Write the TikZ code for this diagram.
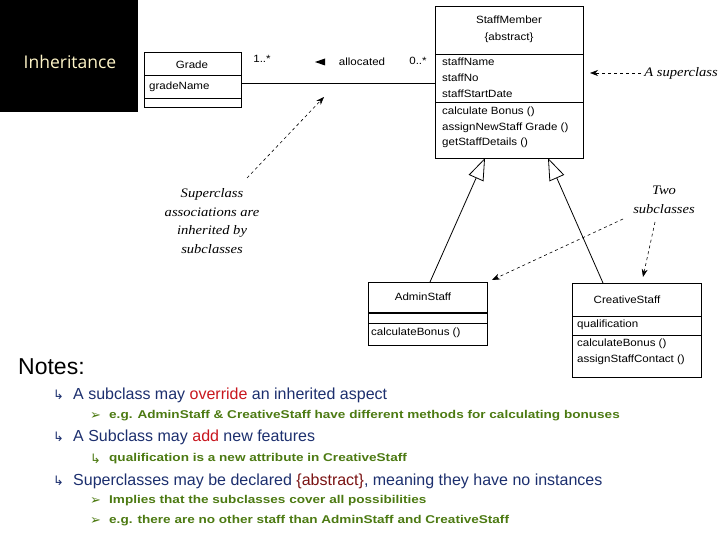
\documentclass[tikz,border=0pt]{standalone}
\usepackage{fontspec}
\setmainfont{Liberation Sans}
\newfontfamily\umlf[FakeStretch=1.1]{Liberation Sans}
\newfontfamily\narrowb[FakeStretch=1.2]{Liberation Sans}
\newfontfamily\dejavu{DejaVu Sans}
\newfontfamily\titlef{Open Sans}
\newfontfamily\serifit[FakeStretch=1.12]{Liberation Serif}
\usetikzlibrary{arrows.meta}
\definecolor{nblue}{HTML}{1C2F6E}
\definecolor{nred}{HTML}{C8161E}
\definecolor{ngreen}{HTML}{4C7A12}
\definecolor{ndred}{HTML}{7A1212}
\definecolor{ttl}{HTML}{FFF6C8}
\tikzset{
  cls/.style={draw,line width=0.8pt},
  sep/.style={line width=0.7pt},
  uml/.style={font=\umlf\fontsize{10.5}{12}\selectfont,anchor=west,inner sep=0pt},
  umlc/.style={font=\umlf\fontsize{10.5}{12}\selectfont,inner sep=0pt},
  note/.style={font=\serifit\fontsize{13}{18.5}\selectfont\itshape,align=center,inner sep=0pt},
  dasharrow/.style={dashed,line width=0.6pt,-{Stealth[length=8pt,width=6pt]}},
  gen/.style={line width=0.8pt,-{Triangle[open,length=22pt,width=16pt]}},
  lvl1/.style={anchor=west,inner sep=0pt,font=\fontsize{16}{18}\selectfont,text=nblue},
  lvl2/.style={anchor=west,inner sep=0pt,font=\narrowb\fontsize{11.3}{13}\bfseries\selectfont,text=ngreen},
  bul/.style={anchor=west,inner sep=0pt,font=\dejavu\fontsize{13}{14}\selectfont},
}
\begin{document}
\begin{tikzpicture}[x=1pt,y=-1pt]
\useasboundingbox (0,0) rectangle (720,540);
% title
\fill[black] (0,0) rectangle (138,112);
\node[text=ttl,font=\titlef\fontsize{17.5}{20}\selectfont] (title) at (70,62) {Inheritance};
% Grade
\draw[cls] (144,52) rectangle (241,107);
\draw[sep] (144,75) -- (241,75) (144,98) -- (241,98);
\node[umlc] (grade) at (192,65) {Grade};
\node[uml] (gradeName) at (149,87) {gradeName};
\coordinate (gradeR) at (241,83);
% StaffMember
\draw[cls] (435,6) rectangle (583,158);
\draw[sep] (435,54) -- (583,54) (435,102) -- (583,102);
\node[umlc] (sm) at (509,20) {StaffMember};
\node[umlc] at (509,38) {\{abstract\}};
\node[uml] at (442,62) {staffName};
\node[uml] at (442,78) {staffNo};
\node[uml] at (442,94) {staffStartDate};
\node[uml] at (442,112) {calculate Bonus ()};
\node[uml] at (442,128) {assignNewStaff Grade ()};
\node[uml] at (442,143) {getStaffDetails ()};
\coordinate (smL) at (435,83);
\coordinate (smR) at (590,73);
\coordinate (smB1) at (485,158);
\coordinate (smB2) at (548,158);
% association
\draw[line width=0.7pt] (gradeR) -- (smL);
\node[umlc] (m1) at (262,59) {1..*};
\node[umlc] (m2) at (418,61) {0..*};
\node[umlc] (alloc) at (362,62) {allocated};
\fill (315,62) -- (325,58.5) -- (325,65.5) -- cycle;
% notes
\node[note,anchor=east] (sup) at (718,73) {A superclass};
\draw[dasharrow] (sup.west) ++(-3,0) -- (smR);
\node[note] (inh) at (212,221) {Superclass\\associations are\\inherited by\\subclasses};
\coordinate (inhS) at (247,178);
\coordinate (assocPt) at (324,97);
\draw[dasharrow] (inhS) -- (assocPt);
% AdminStaff
\draw[cls] (368,282) rectangle (487,345);
\draw[line width=1.5pt] (368,313) -- (487,313);
\draw[sep] (368,323) -- (487,323);
\node[umlc] (as) at (423,297) {AdminStaff};
\node[uml] at (371,333) {calculateBonus ()};
\coordinate (asT) at (430,282);
\coordinate (asR) at (492,280);
% CreativeStaff
\draw[cls] (572,283) rectangle (701,377);
\draw[sep] (572,316) -- (701,316) (572,335) -- (701,335);
\node[umlc] (cs) at (627,300) {CreativeStaff};
\node[uml] at (577,325) {qualification};
\node[uml] at (577,344) {calculateBonus ()};
\node[uml] at (577,360) {assignStaffContact ()};
\coordinate (csT) at (603,283);
\coordinate (csTop) at (643,277);
% generalisations
\draw[gen] (asT) -- (smB1);
\draw[gen] (csT) -- (smB2);
% two subclasses
\node[note] (two) at (664,200) {Two\\subclasses};
\coordinate (twoA) at (623,219);
\coordinate (twoB) at (655,222);
\draw[dasharrow] (twoA) -- (asR);
\draw[dasharrow] (twoB) -- (csTop);
% text notes
\node[anchor=west,inner sep=0pt,font=\fontsize{23}{26}\selectfont] (notes) at (18,367) {Notes:};
\node[bul,text=nblue] (b1) at (53,395) {↳};
\node[lvl1] (l1) at (73,395) {A subclass may \textcolor{nred}{override} an inherited aspect};
\node[bul,text=ngreen] (b2) at (90,416) {➢};
\node[lvl2] (l2) at (109,416) {e.g. AdminStaff \& CreativeStaff have different methods for calculating bonuses};
\node[bul,text=nblue] (b3) at (53,437) {↳};
\node[lvl1] (l3) at (73,437) {A Subclass may \textcolor{nred}{add} new features};
\node[bul,text=ngreen] (b4) at (90,459) {↳};
\node[lvl2] (l4) at (109,459) {qualification is a new attribute in CreativeStaff};
\node[bul,text=nblue] (b5) at (53,481) {↳};
\node[lvl1] (l5) at (73,481) {Superclasses may be declared \textcolor{ndred}{\{abstract\}}, meaning they have no instances};
\node[bul,text=ngreen] (b6) at (90,501) {➢};
\node[lvl2] (l6) at (109,501) {Implies that the subclasses cover all possibilities};
\node[bul,text=ngreen] (b7) at (90,521) {➢};
\node[lvl2] (l7) at (109,521) {e.g. there are no other staff than AdminStaff and CreativeStaff};
\end{tikzpicture}
\end{document}
